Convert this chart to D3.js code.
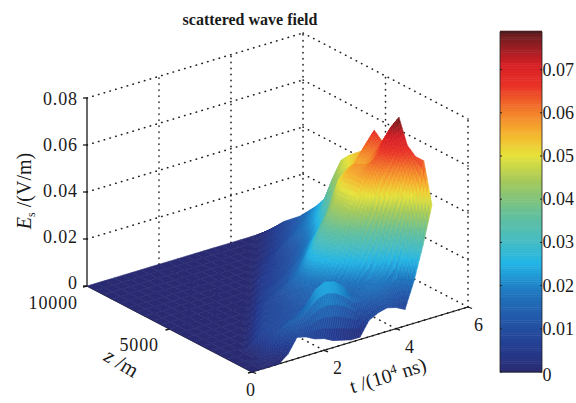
<!DOCTYPE html>
<html>
<head>
<meta charset="utf-8">
<script src="https://cdn.jsdelivr.net/npm/d3@7"></script>
<style>
  html, body { margin: 0; padding: 0; background: #fff; }
  text { font-family: "Liberation Serif", serif; fill: #1a1a1a; }
</style>
</head>
<body>
<div id="chart"></div>
<script>
// axis ticks
const tTicks = [0, 2, 4, 6];
const zTicks = [0, 5000, 10000];
const eTicks = [0, 0.02, 0.04, 0.06, 0.08];
const eTickLabels = ["0", "0.02", "0.04", "0.06", "0.08"];
const barTicks = [0, 0.01, 0.02, 0.03, 0.04, 0.05, 0.06, 0.07];

// surface grid: t in 10^4 ns, z in m
const tValues = [0, 0.25, 0.5, 0.75, 1, 1.25, 1.5, 1.75, 2, 2.25, 2.5, 2.75, 3, 3.25, 3.5, 3.75, 4, 4.25, 4.5, 4.75, 5];
const zValues = [0, 500, 1000, 1500, 2000, 2500, 3000, 3500, 4000, 4500, 5000, 5500, 6000, 6500, 7000, 7500, 8000, 8500, 9000, 9500, 10000];

// Es, in 10^-3 V/m, one row per z value
const esRows = [
  [0,0,0,0,3,9,8,6,5,3,2,1,1,7,9,10,9,7,18,32,48],
  [0,0,2,5,10,14,15,19,24,26,25,22,17,15,17,18,16,18,30,48,65],
  [0,0,0,5,8,10,11,12,15,18,19,18,15,15,17,19,26,39,50,60,65],
  [0,0,0,5,8,9,10,11,12,14,15,16,16,18,26,37,46,56,62,68,68],
  [0,0,0,0,5,8,9,10,11,13,15,17,21,30,39,48,56,62,66,74,78],
  [0,0,0,0,0,5,8,9,10,12,15,20,27,35,42,47,56,58,60,66,72],
  [0,0,0,0,0,0,5,8,9,11,14,19,25,33,41,47,55,58,56,60,64],
  [0,0,0,0,0,0,0,5,8,10,12,15,20,26,33,39,50,54,56,62,67],
  [0,0,0,0,0,0,0,0,5,7,9,11,14,18,24,30,38,48,50,54,57],
  [0,0,0,0,0,0,0,0,0,5,7,9,11,14,18,23,28,36,44,50,54],
  [0,0,0,0,0,0,0,0,0,0,5,6,8,10,13,17,21,29,40,47,51],
  [0,0,0,0,0,0,0,0,0,0,0,5,6,8,10,13,17,22,31,40,47],
  [0,0,0,0,0,0,0,0,0,0,0,0,5,6,8,10,13,18,23,28,33],
  [0,0,0,0,0,0,0,0,0,0,0,0,0,4,6,8,11,15,19,23,27],
  [0,0,0,0,0,0,0,0,0,0,0,0,0,0,4,6,9,12,15,19,22],
  [0,0,0,0,0,0,0,0,0,0,0,0,0,0,0,3,5,8,11,14,18],
  [0,0,0,0,0,0,0,0,0,0,0,0,0,0,0,0,3,5,8,11,14],
  [0,0,0,0,0,0,0,0,0,0,0,0,0,0,0,0,0,3,5,8,11],
  [0,0,0,0,0,0,0,0,0,0,0,0,0,0,0,0,0,0,3,5,8],
  [0,0,0,0,0,0,0,0,0,0,0,0,0,0,0,0,0,0,0,3,4],
  [0,0,0,0,0,0,0,0,0,0,0,0,0,0,0,0,0,0,0,0,0]
];

// colour map, sampled from the colour bar
const colorStops = [0, 0.005, 0.012, 0.018, 0.025, 0.03, 0.036, 0.044, 0.05, 0.055, 0.06, 0.066, 0.071, 0.079];
const colorValues = ["#2a2b72", "#243a8e", "#2357a8", "#1f74bd", "#22b5e6", "#45bcc4", "#62bf9c", "#a4c95a", "#e6e23a", "#f5b32e", "#f37f2a", "#ea3327", "#d61f26", "#5a1c1e"];

const width = 576, height = 403;
const originX = 252, originY = 372;

const color = d3.scaleLinear().domain(colorStops).range(colorValues);

// oblique projection of the 3d box, one scale per screen direction
const tX = d3.scaleLinear().domain([0, 6]).range([0, 216]);
const tY = d3.scaleLinear().domain([0, 6]).range([0, -65]);
const zX = d3.scaleLinear().domain([0, 10000]).range([0, -165]);
const zY = d3.scaleLinear().domain([0, 10000]).range([0, -86]);
const eY = d3.scaleLinear().domain([0, 0.08]).range([0, -188]);

const px = (t, z) => originX + tX(t) + zX(z);
const py = (t, z, e) => originY + tY(t) + zY(z) + eY(e);

const svg = d3.select("#chart").append("svg").attr("width", width).attr("height", height);

const defs = svg.append("defs");
defs.append("filter").attr("id", "soft").attr("x", "-5%").attr("y", "-5%").attr("width", "110%").attr("height", "110%")
  .append("feGaussianBlur").attr("stdDeviation", 0.5);

const line = d3.line().x(d => d[0]).y(d => d[1]);

// ---- dotted box grid
const grid = svg.append("g").attr("fill", "none").attr("stroke", "#222")
  .attr("stroke-width", 1.6).attr("stroke-dasharray", "0.4 5.6").attr("stroke-linecap", "round");
const seg = (a, b) => grid.append("path").attr("d", line([a, b]));

eTicks.forEach(e => {
  if (e > 0) {
    seg([px(0, 10000), py(0, 10000, e)], [px(6, 10000), py(6, 10000, e)]);
    seg([px(6, 10000), py(6, 10000, e)], [px(6, 0), py(6, 0, e)]);
  }
});
[2, 4, 6].forEach(t => {
  seg([px(t, 10000), py(t, 10000, 0)], [px(t, 10000), py(t, 10000, 0.08)]);
  seg([px(t, 0), py(t, 0, 0)], [px(t, 10000), py(t, 10000, 0)]);
});
[0, 5000].forEach(z => {
  seg([px(6, z), py(6, z, 0)], [px(6, z), py(6, z, 0.08)]);
  seg([px(0, z), py(0, z, 0)], [px(6, z), py(6, z, 0)]);
});

// ---- solid axes
const axes = svg.append("g").attr("fill", "none").attr("stroke", "#1a1a1a").attr("stroke-width", 1.3);
axes.append("path").attr("d", line([[px(0, 10000), py(0, 10000, 0)], [px(0, 10000), py(0, 10000, 0.08)]]));
axes.append("path").attr("d", line([[px(0, 0), py(0, 0, 0)], [px(6, 0), py(6, 0, 0)]]));
axes.append("path").attr("d", line([[px(0, 0), py(0, 0, 0)], [px(0, 10000), py(0, 10000, 0)]]));
eTicks.forEach(e => {
  axes.append("path").attr("d", line([[px(0, 10000) - 4, py(0, 10000, e)], [px(0, 10000), py(0, 10000, e)]]));
});
tTicks.forEach(t => {
  axes.append("path").attr("d", line([[px(t, 0), py(t, 0, 0)], [px(t, 0) + 4, py(t, 0, 0) + 1.5]]));
});
zTicks.forEach(z => {
  axes.append("path").attr("d", line([[px(0, z), py(0, z, 0)], [px(0, z) - 4, py(0, z, 0) + 1]]));
});

// ---- surface, painted from the back corner to the front
const surface = svg.append("g").attr("filter", "url(#soft)");
const subdiv = 5;

function drawPatch(t0, t1, z0, z1, e00, e10, e01, e11) {
  const pts = [[t0, z0, e00], [t1, z0, e10], [t1, z1, e11], [t0, z1, e01]]
    .map(d => [px(d[0], d[1]), py(d[0], d[1], d[2])]);
  const c = color((e00 + e10 + e01 + e11) / 4);
  surface.append("path").attr("d", line(pts) + "Z").attr("fill", c).attr("stroke", c).attr("stroke-width", 0.6);
}

for (let j = zValues.length - 2; j >= 0; j--) {
  for (let i = tValues.length - 2; i >= 0; i--) {
    const e00 = esRows[j][i] / 1000, e10 = esRows[j][i + 1] / 1000;
    const e01 = esRows[j + 1][i] / 1000, e11 = esRows[j + 1][i + 1] / 1000;
    const t0 = tValues[i], t1 = tValues[i + 1], z0 = zValues[j], z1 = zValues[j + 1];
    if (e00 === 0 && e10 === 0 && e01 === 0 && e11 === 0) {
      drawPatch(t0, t1, z0, z1, 0, 0, 0, 0);
      continue;
    }
    // shading only: split the cell so the colour runs smoothly like shading interp
    for (let b = subdiv - 1; b >= 0; b--) {
      for (let a = subdiv - 1; a >= 0; a--) {
        const mix = (u, v) => (e00 * (1 - u) + e10 * u) * (1 - v) + (e01 * (1 - u) + e11 * u) * v;
        const u0 = a / subdiv, u1 = (a + 1) / subdiv, v0 = b / subdiv, v1 = (b + 1) / subdiv;
        drawPatch(
          t0 + (t1 - t0) * u0, t0 + (t1 - t0) * u1,
          z0 + (z1 - z0) * v0, z0 + (z1 - z0) * v1,
          mix(u0, v0), mix(u1, v0), mix(u0, v1), mix(u1, v1)
        );
      }
    }
  }
}

// ---- tick labels
const labels = svg.append("g").style("font-size", "18px").style("letter-spacing", "0.9px");
eTicks.forEach((e, i) => {
  labels.append("text").attr("x", 78).attr("y", py(0, 10000, e) + 3 + e * 50).attr("text-anchor", "end").text(eTickLabels[i]);
});
labels.append("text").attr("x", 78).attr("y", 309).attr("text-anchor", "end").text("10000");
labels.append("text").attr("x", 159).attr("y", 351).attr("text-anchor", "end").text("5000");
tTicks.forEach(t => {
  const dx = t === 0 ? -1 : (t === 6 ? 11 : 14);
  labels.append("text").attr("x", px(t, 0) + dx).attr("y", py(t, 0, 0) + 24).attr("text-anchor", "middle").text(t);
});

// ---- axis titles
svg.append("text").attr("x", 250).attr("y", 25).attr("text-anchor", "middle")
  .style("font-size", "16px").style("font-weight", "bold").text("scattered wave field");

const zLabel = svg.append("text").attr("transform", "translate(118,369) rotate(31)").attr("text-anchor", "middle").style("font-size", "21px");
zLabel.append("tspan").style("font-style", "italic").text("z");
zLabel.append("tspan").text(" /m");

const tLabel = svg.append("text").attr("transform", "translate(390,382) rotate(-17)").attr("text-anchor", "middle").style("font-size", "20px");
tLabel.append("tspan").text("t /(10");
tLabel.append("tspan").attr("dy", -7).style("font-size", "13px").text("4");
tLabel.append("tspan").attr("dy", 7).text(" ns)");

const eLabel = svg.append("text").attr("transform", "translate(31,191) rotate(-90)").attr("text-anchor", "middle").style("font-size", "20px");
eLabel.append("tspan").style("font-style", "italic").text("E");
eLabel.append("tspan").attr("dy", 4).style("font-size", "12px").text("s");
eLabel.append("tspan").attr("dy", -4).text(" /(V/m)");

// ---- colour bar
const barY = d3.scaleLinear().domain([0, 0.0787]).range([372, 32]);
const barLeft = 500, barRight = 542;
const barSteps = d3.range(0, 0.0787, 0.0005);
svg.append("g").selectAll("rect").data(barSteps).enter().append("rect")
  .attr("x", barLeft).attr("width", barRight - barLeft)
  .attr("y", d => barY(d + 0.0005)).attr("height", d => barY(d) - barY(d + 0.0005) + 0.5)
  .attr("fill", d => color(d));
svg.append("rect").attr("x", barLeft).attr("y", 32).attr("width", barRight - barLeft).attr("height", 340)
  .attr("fill", "none").attr("stroke", "#222").attr("stroke-width", 0.8);

const barAxis = svg.append("g");
barTicks.forEach(v => {
  barAxis.append("path").attr("d", line([[barLeft, barY(v)], [barLeft + 2, barY(v)]])).attr("stroke", "#222");
  barAxis.append("path").attr("d", line([[barRight - 2, barY(v)], [barRight, barY(v)]])).attr("stroke", "#222");
  barAxis.append("text").attr("x", barRight + 0.5).attr("y", barY(v) + (v === 0 ? 9 : 6))
    .style("font-size", "18px").text(v === 0 ? "0" : v.toFixed(2));
});
</script>
</body>
</html>
